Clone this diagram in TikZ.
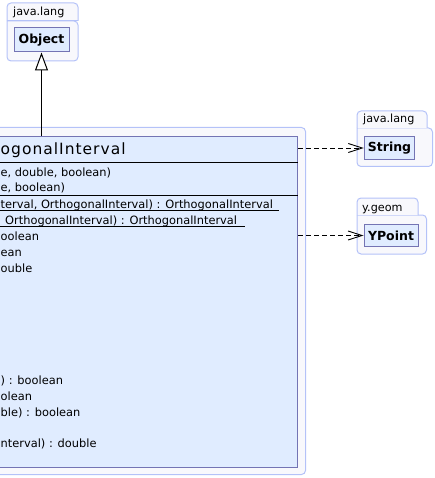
\documentclass[tikz,border=0pt]{standalone}
\usepackage{fontspec}
\setmainfont{DejaVu Sans}
\newfontfamily\titlefont[LetterSpace=6.5]{DejaVu Sans}
\usetikzlibrary{arrows.meta}
\definecolor{pkgfill}{RGB}{248,248,252}
\definecolor{pkgline}{RGB}{180,194,248}
\definecolor{clsfill}{RGB}{224,236,255}
\definecolor{clsline}{RGB}{116,116,180}
\tikzset{
  pkg/.style={draw=pkgline, fill=pkgfill, line width=1pt, rounded corners=4pt},
  clsbox/.style={draw=clsline, fill=clsfill, line width=1pt, inner sep=0pt, font=\bfseries\fontsize{12.5}{14}\selectfont},
  pkglabel/.style={inner sep=0pt, anchor=base west, font=\fontsize{11.2}{13}\selectfont},
  txt/.style={inner sep=0pt, anchor=base west, font=\fontsize{11.4}{13}\selectfont},
  sepline/.style={draw=black, line width=1pt},
  uline/.style={draw=black, line width=0.9pt},
  inherit/.style={draw=black, line width=1pt, -{Triangle[length=18pt, width=13pt, fill=white]}},
  depend/.style={draw=black, line width=0.9pt, dash pattern=on 5pt off 3pt, -{Straight Barb[length=14pt, width=9pt]}}
}
\begin{document}
\begin{tikzpicture}[x=1pt, y=-1pt]
\useasboundingbox (0,0) rectangle (435,478);
\clip (0,0) rectangle (435,478);

% ---- package java.lang (Object)
\path[pkg] (7,21) -- (7,61) -- (78,61) -- (78,21) -- (7,21);
\path[pkg] (7,21) -- (7,3) -- (78,3) -- (78,21);
\draw[pkgline, line width=1pt] (7,21) -- (78,21);
\node[pkglabel] (pkgA) at (13,16) {java.lang};
\node[clsbox, minimum width=55pt, minimum height=24pt] (object) at (41.5,40) {Object};

% ---- main package and class
\path[pkg] (-20,127.5) rectangle (305.5,474.5);
\node[clsbox, anchor=north east, minimum width=460pt, minimum height=331pt] (main) at (298,136) {};
\draw[sepline] (main.west |- 0,162.5) -- (main.east |- 0,162.5);
\draw[sepline] (main.west |- 0,195.7) -- (main.east |- 0,195.7);
\node[inner sep=0pt, anchor=base west, font=\titlefont\fontsize{15.5}{18}\selectfont] (title) at (0.5,154.5) {ogonalInterval};

\node[txt] (c1) at (0.5,176) {e, double, boolean)};
\node[txt] (c2) at (0.5,192) {e, boolean)};
\node[txt] (m1) at (0.5,208) {terval, OrthogonalInterval) : OrthogonalInterval};
\node[txt] (m2) at (5,224) {OrthogonalInterval) : OrthogonalInterval};
\draw[uline] (main.west |- 0,210.6) -- (279,210.6);
\draw[uline] (main.west |- 0,226.6) -- (245,226.6);
\node[txt] (m3) at (0.5,240) {oolean};
\node[txt] (m4) at (0.5,256) {ean};
\node[txt] (m5) at (0.5,272) {ouble};
\node[txt] (m6) at (0.5,384.5) {) : boolean};
\node[txt] (m7) at (0.5,400.5) {olean};
\node[txt] (m8) at (0.5,416) {ble) : boolean};
\node[txt] (m9) at (0.5,447.5) {nterval) : double};

% ---- package java.lang (String)
\path[pkg] (357,128) -- (357,166.5) -- (432.5,166.5) -- (432.5,128) -- (357,128);
\path[pkg] (357,128) -- (357,111) -- (427,111) -- (427,128);
\node[pkglabel] (pkgB) at (363,123) {java.lang};
\node[clsbox, minimum width=50.5pt, minimum height=22.5pt] (string) at (389.5,148) {String};

% ---- package y.geom (YPoint)
\path[pkg] (357,215) -- (357,254) -- (426.5,254) -- (426.5,215) -- (357,215);
\path[pkg] (357,215) -- (357,198) -- (418,198) -- (418,215);
\node[pkglabel] (pkgC) at (362,211.5) {y.geom};
\node[clsbox, minimum width=54pt, minimum height=22pt] (ypoint) at (391,235.5) {YPoint};

% ---- connectors
\draw[inherit] (main.north -| object.south) -- (object.south);
\draw[depend] (main.east |- string.west) -- (string.west);
\draw[depend] (main.east |- ypoint.west) -- (ypoint.west);
\end{tikzpicture}
\end{document}
